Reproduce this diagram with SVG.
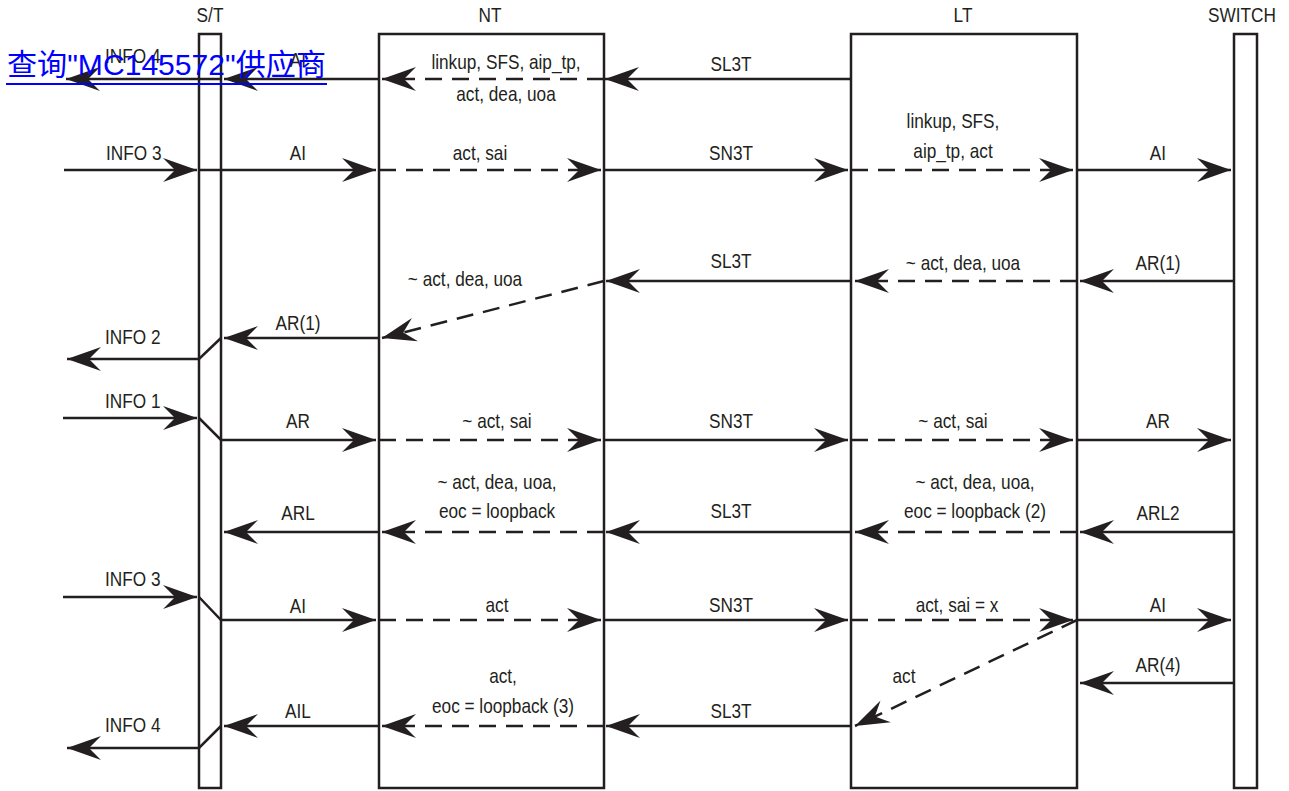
<svg xmlns="http://www.w3.org/2000/svg" width="1289" height="791" viewBox="0 0 1289 791">
<style>
.box{fill:none;stroke:#231f20;stroke-width:2.5}
.ln{fill:none;stroke:#231f20;stroke-width:2.5;marker-end:url(#ah)}
.d{stroke-dasharray:17 10}
text{font-family:"Liberation Sans",Arial,sans-serif;font-size:21px;fill:#231f20}
.c{text-anchor:middle}
.wm{font-family:"Liberation Sans","Noto Sans CJK SC",sans-serif;font-size:30px;fill:#0000ff}
</style>
<defs>
<marker id="ah" markerUnits="userSpaceOnUse" markerWidth="40" markerHeight="30" viewBox="-36 -15 40 30" refX="0" refY="0" orient="auto">
<path d="M0,0 L-34,-12 L-22,0 L-34,12 Z" fill="#231f20"/>
</marker>
</defs>
<rect width="1289" height="791" fill="#fff"/>
<g id="node-st">
<rect class="box" x="199" y="34" width="22" height="754"/>
<text class="c" transform="translate(210 22) scale(0.82 1)">S/T</text>
</g>
<g id="node-nt">
<rect class="box" x="379" y="34" width="225" height="754"/>
<text class="c" transform="translate(490 22) scale(0.82 1)">NT</text>
</g>
<g id="node-lt">
<rect class="box" x="851" y="34" width="226" height="754"/>
<text class="c" transform="translate(963 22) scale(0.82 1)">LT</text>
</g>
<g id="node-switch">
<rect class="box" x="1234" y="34" width="23" height="754"/>
<text class="c" transform="translate(1242 22) scale(0.82 1)">SWITCH</text>
</g>
<g id="connectors">
<line class="ln" x1="851" y1="79" x2="605" y2="79"/>
<line class="ln d" x1="604" y1="79" x2="382" y2="79"/>
<line class="ln" x1="379" y1="79" x2="224" y2="79"/>
<line class="ln" x1="221" y1="79" x2="66" y2="79"/>
<line class="ln" x1="64" y1="170" x2="197" y2="170"/>
<line class="ln" x1="199" y1="170" x2="376" y2="170"/>
<line class="ln d" x1="379" y1="170" x2="601" y2="170"/>
<line class="ln" x1="604" y1="170" x2="848" y2="170"/>
<line class="ln d" x1="851" y1="170" x2="1073" y2="170"/>
<line class="ln" x1="1077" y1="170" x2="1231" y2="170"/>
<line class="ln" x1="1234" y1="281" x2="1080" y2="281"/>
<line class="ln d" x1="1077" y1="281" x2="855" y2="281"/>
<line class="ln" x1="851" y1="281" x2="606" y2="281"/>
<line class="ln d" x1="604" y1="281" x2="382" y2="338"/>
<line class="ln" x1="379" y1="338" x2="224" y2="338"/>
<path class="ln" d="M221,338 L199,359 L67,359"/>
<line class="ln" x1="63" y1="418" x2="197" y2="418"/>
<path class="ln" d="M199,418 L221,440 L376,440"/>
<line class="ln d" x1="379" y1="440" x2="601" y2="440"/>
<line class="ln" x1="604" y1="440" x2="848" y2="440"/>
<line class="ln d" x1="851" y1="440" x2="1073" y2="440"/>
<line class="ln" x1="1077" y1="440" x2="1231" y2="440"/>
<line class="ln" x1="1234" y1="532" x2="1080" y2="532"/>
<line class="ln d" x1="1077" y1="532" x2="855" y2="532"/>
<line class="ln" x1="851" y1="532" x2="606" y2="532"/>
<line class="ln d" x1="604" y1="532" x2="382" y2="532"/>
<line class="ln" x1="379" y1="532" x2="224" y2="532"/>
<line class="ln" x1="63" y1="597" x2="197" y2="597"/>
<path class="ln" d="M199,597 L221,620 L376,620"/>
<line class="ln d" x1="379" y1="620" x2="601" y2="620"/>
<line class="ln" x1="604" y1="620" x2="848" y2="620"/>
<line class="ln d" x1="851" y1="620" x2="1073" y2="620"/>
<line class="ln" x1="1077" y1="620" x2="1231" y2="620"/>
<line class="ln" x1="1234" y1="683" x2="1080" y2="683"/>
<line class="ln d" x1="1077" y1="620" x2="855" y2="726"/>
<line class="ln" x1="851" y1="726" x2="606" y2="726"/>
<line class="ln d" x1="604" y1="726" x2="382" y2="726"/>
<line class="ln" x1="379" y1="726" x2="224" y2="726"/>
<path class="ln" d="M221,726 L199,748 L67,748"/>
</g>
<g id="labels">
<text transform="translate(105 63) scale(0.82 1)">INFO 4</text>
<text class="c" transform="translate(298 67) scale(0.82 1)">AI</text>
<text class="c" transform="translate(506 69) scale(0.82 1)">linkup, SFS, aip_tp,</text>
<text class="c" transform="translate(506 101) scale(0.82 1)">act, dea, uoa</text>
<text class="c" transform="translate(731 71) scale(0.82 1)">SL3T</text>

<text transform="translate(106 160) scale(0.82 1)">INFO 3</text>
<text class="c" transform="translate(298 160) scale(0.82 1)">AI</text>
<text class="c" transform="translate(480 160) scale(0.82 1)">act, sai</text>
<text class="c" transform="translate(731 160) scale(0.82 1)">SN3T</text>
<text class="c" transform="translate(953 128) scale(0.82 1)">linkup, SFS,</text>
<text class="c" transform="translate(953 158) scale(0.82 1)">aip_tp, act</text>
<text class="c" transform="translate(1158 160) scale(0.82 1)">AI</text>

<text class="c" transform="translate(1158 270) scale(0.82 1)">AR(1)</text>
<text class="c" transform="translate(963 270) scale(0.82 1)">~ act, dea, uoa</text>
<text class="c" transform="translate(731 268) scale(0.82 1)">SL3T</text>
<text class="c" transform="translate(465 286) scale(0.82 1)">~ act, dea, uoa</text>
<text class="c" transform="translate(298 330) scale(0.82 1)">AR(1)</text>
<text transform="translate(105 344) scale(0.82 1)">INFO 2</text>

<text transform="translate(105 408) scale(0.82 1)">INFO 1</text>
<text class="c" transform="translate(298 428) scale(0.82 1)">AR</text>
<text class="c" transform="translate(497 428) scale(0.82 1)">~ act, sai</text>
<text class="c" transform="translate(731 428) scale(0.82 1)">SN3T</text>
<text class="c" transform="translate(953 428) scale(0.82 1)">~ act, sai</text>
<text class="c" transform="translate(1158 428) scale(0.82 1)">AR</text>

<text class="c" transform="translate(497 489) scale(0.82 1)">~ act, dea, uoa,</text>
<text class="c" transform="translate(497 518) scale(0.82 1)">eoc = loopback</text>
<text class="c" transform="translate(731 518) scale(0.82 1)">SL3T</text>
<text class="c" transform="translate(975 489) scale(0.82 1)">~ act, dea, uoa,</text>
<text class="c" transform="translate(975 518) scale(0.82 1)">eoc = loopback (2)</text>
<text class="c" transform="translate(1158 520) scale(0.82 1)">ARL2</text>
<text class="c" transform="translate(298 520) scale(0.82 1)">ARL</text>

<text transform="translate(105 586) scale(0.82 1)">INFO 3</text>
<text class="c" transform="translate(298 613) scale(0.82 1)">AI</text>
<text class="c" transform="translate(497 612) scale(0.82 1)">act</text>
<text class="c" transform="translate(731 612) scale(0.82 1)">SN3T</text>
<text class="c" transform="translate(957 612) scale(0.82 1)">act, sai = x</text>
<text class="c" transform="translate(1158 612) scale(0.82 1)">AI</text>
<text class="c" transform="translate(1158 672) scale(0.82 1)">AR(4)</text>
<text class="c" transform="translate(904 683) scale(0.82 1)">act</text>
<text class="c" transform="translate(503 683) scale(0.82 1)">act,</text>
<text class="c" transform="translate(503 713) scale(0.82 1)">eoc = loopback (3)</text>
<text class="c" transform="translate(731 718) scale(0.82 1)">SL3T</text>
<text class="c" transform="translate(298 718) scale(0.82 1)">AIL</text>
<text transform="translate(105 732) scale(0.82 1)">INFO 4</text>
</g>
<g id="watermark">
<text class="wm" x="7" y="75" textLength="319" lengthAdjust="spacingAndGlyphs">查询"MC145572"供应商</text>
<rect x="6" y="83" width="321" height="2" fill="#0000ff"/>
</g>
</svg>
